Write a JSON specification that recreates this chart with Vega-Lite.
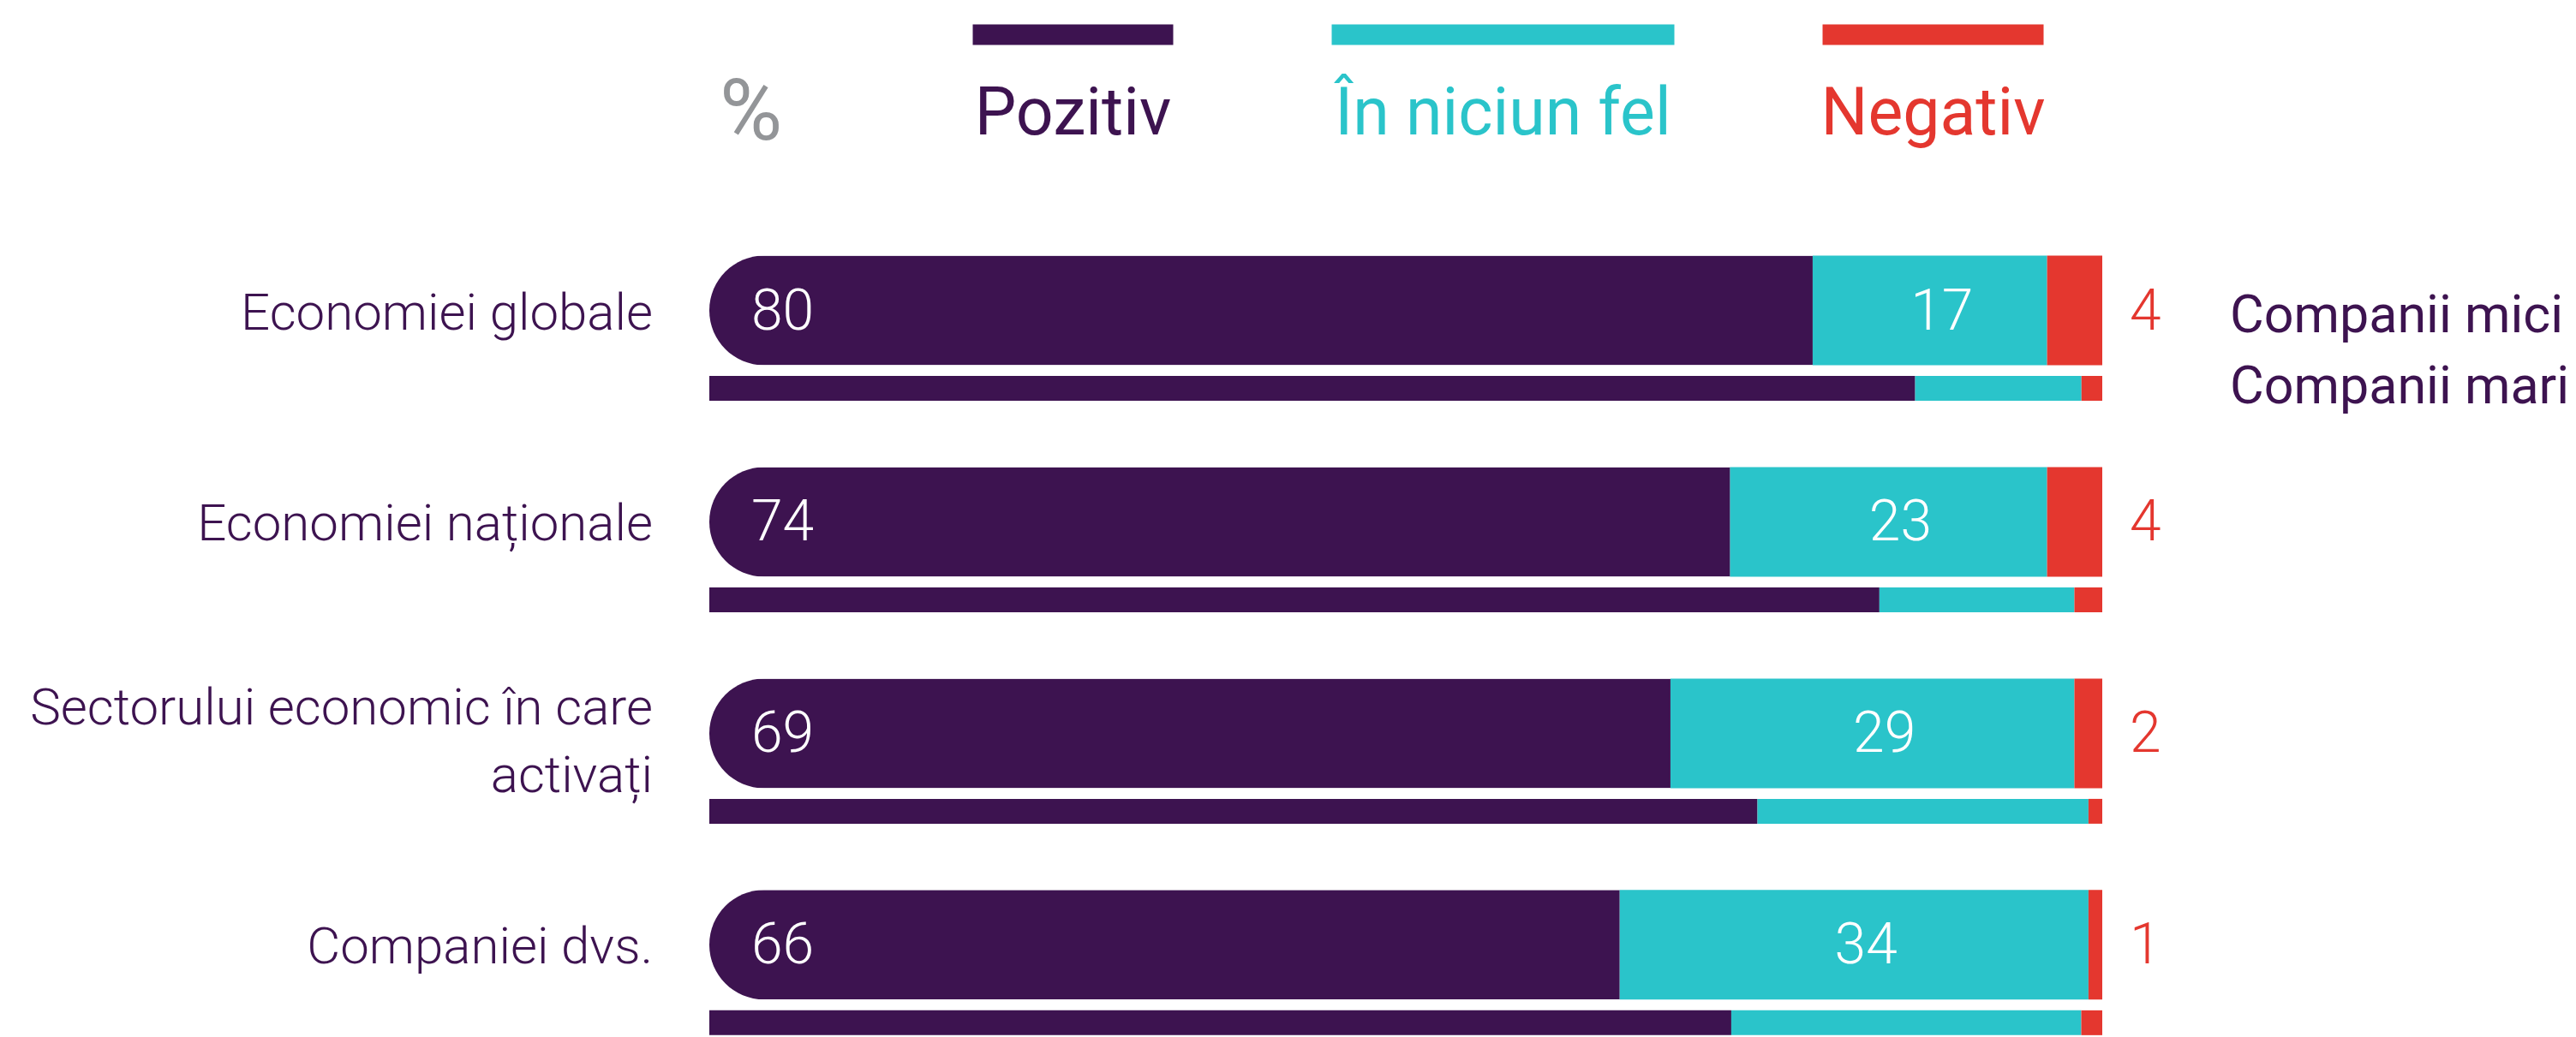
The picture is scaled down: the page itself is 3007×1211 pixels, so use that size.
{
  "$schema": "https://vega.github.io/schema/vega-lite/v6.json",
  "width": 1626,
  "height": 1211,
  "autosize": {"type": "none"},
  "padding": {"left": 828, "top": 0, "right": 553, "bottom": 0},
  "background": "white",
  "config": {"view": {"stroke": null}, "font": "Roboto"},
  "datasets": {
    "survey": [
      {"item": "Economiei globale", "rank": 1, "company": "Companii mici", "resp": "Pozitiv", "ord": 1, "value": 80},
      {"item": "Economiei globale", "rank": 1, "company": "Companii mici", "resp": "În niciun fel", "ord": 2, "value": 17},
      {"item": "Economiei globale", "rank": 1, "company": "Companii mici", "resp": "Negativ", "ord": 3, "value": 4},
      {"item": "Economiei globale", "rank": 1, "company": "Companii mari", "resp": "Pozitiv", "ord": 1, "value": 87},
      {"item": "Economiei globale", "rank": 1, "company": "Companii mari", "resp": "În niciun fel", "ord": 2, "value": 12},
      {"item": "Economiei globale", "rank": 1, "company": "Companii mari", "resp": "Negativ", "ord": 3, "value": 1.5},
      {"item": "Economiei naționale", "rank": 2, "company": "Companii mici", "resp": "Pozitiv", "ord": 1, "value": 74},
      {"item": "Economiei naționale", "rank": 2, "company": "Companii mici", "resp": "În niciun fel", "ord": 2, "value": 23},
      {"item": "Economiei naționale", "rank": 2, "company": "Companii mici", "resp": "Negativ", "ord": 3, "value": 4},
      {"item": "Economiei naționale", "rank": 2, "company": "Companii mari", "resp": "Pozitiv", "ord": 1, "value": 84},
      {"item": "Economiei naționale", "rank": 2, "company": "Companii mari", "resp": "În niciun fel", "ord": 2, "value": 14},
      {"item": "Economiei naționale", "rank": 2, "company": "Companii mari", "resp": "Negativ", "ord": 3, "value": 2},
      {"item": "Sectorului economic în care\nactivați", "rank": 3, "company": "Companii mici", "resp": "Pozitiv", "ord": 1, "value": 69},
      {"item": "Sectorului economic în care\nactivați", "rank": 3, "company": "Companii mici", "resp": "În niciun fel", "ord": 2, "value": 29},
      {"item": "Sectorului economic în care\nactivați", "rank": 3, "company": "Companii mici", "resp": "Negativ", "ord": 3, "value": 2},
      {"item": "Sectorului economic în care\nactivați", "rank": 3, "company": "Companii mari", "resp": "Pozitiv", "ord": 1, "value": 76},
      {"item": "Sectorului economic în care\nactivați", "rank": 3, "company": "Companii mari", "resp": "În niciun fel", "ord": 2, "value": 24},
      {"item": "Sectorului economic în care\nactivați", "rank": 3, "company": "Companii mari", "resp": "Negativ", "ord": 3, "value": 1},
      {"item": "Companiei dvs.", "rank": 4, "company": "Companii mici", "resp": "Pozitiv", "ord": 1, "value": 66},
      {"item": "Companiei dvs.", "rank": 4, "company": "Companii mici", "resp": "În niciun fel", "ord": 2, "value": 34},
      {"item": "Companiei dvs.", "rank": 4, "company": "Companii mici", "resp": "Negativ", "ord": 3, "value": 1},
      {"item": "Companiei dvs.", "rank": 4, "company": "Companii mari", "resp": "Pozitiv", "ord": 1, "value": 73},
      {"item": "Companiei dvs.", "rank": 4, "company": "Companii mari", "resp": "În niciun fel", "ord": 2, "value": 25},
      {"item": "Companiei dvs.", "rank": 4, "company": "Companii mari", "resp": "Negativ", "ord": 3, "value": 1.5}
    ],
    "legend": [
      {"resp": "Pozitiv", "ord": 1, "rank": 0},
      {"resp": "În niciun fel", "ord": 2, "rank": 0},
      {"resp": "Negativ", "ord": 3, "rank": 0}
    ]
  },
  "layer": [
    {
      "data": {"name": "survey"},
      "layer": [
        {
          "transform": [{"filter": "datum.company === 'Companii mici'"}],
          "mark": {"type": "bar", "orient": "horizontal", "height": 128},
          "encoding": {
            "x": {"field": "value", "type": "quantitative", "stack": "normalize", "axis": null},
            "y": {"field": "rank", "type": "quantitative", "axis": null, "scale": {"domain": [-0.44779, 4.41566], "reverse": true, "nice": false, "zero": false}},
            "color": {"field": "resp", "type": "nominal", "legend": null, "scale": {"domain": ["Pozitiv", "În niciun fel", "Negativ"], "range": ["#3D1350", "#2AC4CA", "#E4372F"]}},
            "order": {"field": "ord"},
            "opacity": {"condition": {"test": "datum.resp === 'Pozitiv'", "value": 0}, "value": 1}
          }
        },
        {
          "transform": [{"filter": "datum.company === 'Companii mici'"}],
          "mark": {"type": "bar", "orient": "horizontal", "height": 128, "cornerRadiusTopLeft": 64, "cornerRadiusBottomLeft": 64},
          "encoding": {
            "x": {"field": "value", "type": "quantitative", "stack": "normalize", "axis": null},
            "y": {"field": "rank", "type": "quantitative", "axis": null, "scale": {"domain": [-0.44779, 4.41566], "reverse": true, "nice": false, "zero": false}},
            "color": {"field": "resp", "type": "nominal", "legend": null},
            "order": {"field": "ord"},
            "opacity": {"condition": {"test": "datum.resp === 'Pozitiv'", "value": 1}, "value": 0}
          }
        },
        {
          "transform": [{"filter": "datum.company === 'Companii mari'"}],
          "mark": {"type": "bar", "orient": "horizontal", "height": 29, "yOffset": 91},
          "encoding": {
            "x": {"field": "value", "type": "quantitative", "stack": "normalize", "axis": null},
            "y": {"field": "rank", "type": "quantitative", "axis": null, "scale": {"domain": [-0.44779, 4.41566], "reverse": true, "nice": false, "zero": false}},
            "color": {"field": "resp", "type": "nominal", "legend": null},
            "order": {"field": "ord"}
          }
        },
        {
          "transform": [{"filter": "datum.company === 'Companii mici' && datum.resp === 'Pozitiv' && datum.rank !== 3"}],
          "mark": {"type": "text", "align": "right", "baseline": "middle", "dx": -66, "dy": 4, "fontSize": 60, "fontWeight": 300, "color": "#3D1350", "lineBreak": "\n", "lineHeight": 79},
          "encoding": {
            "x": {"datum": 0, "type": "quantitative"},
            "y": {"field": "rank", "type": "quantitative"},
            "text": {"field": "item"}
          }
        },
        {
          "transform": [{"filter": "datum.company === 'Companii mici' && datum.resp === 'Pozitiv' && datum.rank === 3"}],
          "mark": {"type": "text", "align": "right", "baseline": "middle", "dx": -66, "dy": -28, "fontSize": 60, "fontWeight": 300, "color": "#3D1350", "lineBreak": "\n", "lineHeight": 79},
          "encoding": {
            "x": {"datum": 0, "type": "quantitative"},
            "y": {"field": "rank", "type": "quantitative"},
            "text": {"field": "item"}
          }
        },
        {
          "transform": [{"filter": "datum.company === 'Companii mici' && datum.resp === 'Pozitiv'"}],
          "mark": {"type": "text", "align": "left", "baseline": "middle", "dx": 49, "dy": 2, "fontSize": 66, "fontWeight": 300, "color": "white"},
          "encoding": {
            "x": {"datum": 0, "type": "quantitative"},
            "y": {"field": "rank", "type": "quantitative"},
            "text": {"field": "value"}
          }
        },
        {
          "transform": [{"filter": "datum.company === 'Companii mici'"}],
          "mark": {"type": "text", "align": "center", "baseline": "middle", "dx": 14, "dy": 2, "fontSize": 66, "fontWeight": 300, "color": "white"},
          "encoding": {
            "x": {"field": "value", "type": "quantitative", "stack": "normalize", "bandPosition": 0.5},
            "y": {"field": "rank", "type": "quantitative"},
            "detail": {"field": "resp"},
            "order": {"field": "ord"},
            "text": {"field": "value"},
            "opacity": {"condition": {"test": "datum.resp === 'În niciun fel'", "value": 1}, "value": 0}
          }
        },
        {
          "transform": [{"filter": "datum.company === 'Companii mici' && datum.resp === 'Negativ'"}],
          "mark": {"type": "text", "align": "left", "baseline": "middle", "dx": 32, "dy": 2, "fontSize": 66, "fontWeight": 300, "color": "#E4372F"},
          "encoding": {
            "x": {"datum": 1, "type": "quantitative"},
            "y": {"field": "rank", "type": "quantitative"},
            "text": {"field": "value"}
          }
        },
        {
          "transform": [{"filter": "datum.rank === 1 && datum.resp === 'Negativ' && datum.company === 'Companii mici'"}],
          "mark": {"type": "text", "align": "left", "baseline": "middle", "dx": 149, "dy": 7, "fontSize": 61, "fontWeight": 400, "color": "#3D1350"},
          "encoding": {
            "x": {"datum": 1, "type": "quantitative"},
            "y": {"field": "rank", "type": "quantitative"},
            "text": {"field": "company"}
          }
        },
        {
          "transform": [{"filter": "datum.rank === 1 && datum.resp === 'Negativ' && datum.company === 'Companii mari'"}],
          "mark": {"type": "text", "align": "left", "baseline": "middle", "dx": 149, "dy": 90, "fontSize": 61, "fontWeight": 400, "color": "#3D1350"},
          "encoding": {
            "x": {"datum": 1, "type": "quantitative"},
            "y": {"field": "rank", "type": "quantitative"},
            "text": {"field": "company"}
          }
        },
        {
          "data": {"values": [{"label": "%", "rank": 0}]},
          "mark": {"type": "text", "align": "left", "baseline": "alphabetic", "dx": 12, "dy": 47, "fontSize": 100, "fontWeight": 400, "color": "#939598"},
          "encoding": {
            "x": {"datum": 0, "type": "quantitative"},
            "y": {"field": "rank", "type": "quantitative"},
            "text": {"field": "label"}
          }
        }
      ]
    },
    {
      "data": {"name": "legend"},
      "layer": [
        {
          "mark": {"type": "tick", "thickness": 24, "yOffset": -75, "opacity": 1},
          "encoding": {
            "x": {"field": "resp", "type": "nominal", "axis": null, "sort": null, "scale": {"type": "point", "domain": ["Pozitiv", "În niciun fel", "Negativ"], "padding": 0.6195, "align": 0.6825}},
            "y": {"field": "rank", "type": "quantitative", "axis": null, "scale": {"domain": [-0.44779, 4.41566], "reverse": true, "nice": false, "zero": false}},
            "size": {"condition": [{"test": "datum.resp === 'Pozitiv'", "value": 234}, {"test": "datum.resp === 'Negativ'", "value": 258}], "value": 400},
            "color": {"field": "resp", "type": "nominal", "legend": null}
          }
        },
        {
          "mark": {"type": "text", "align": "center", "baseline": "alphabetic", "dy": 41, "fontSize": 77, "fontWeight": 400},
          "encoding": {
            "x": {"field": "resp", "type": "nominal", "axis": null, "sort": null, "scale": {"type": "point", "domain": ["Pozitiv", "În niciun fel", "Negativ"], "padding": 0.6195, "align": 0.6825}},
            "y": {"field": "rank", "type": "quantitative"},
            "text": {"field": "resp"},
            "color": {"field": "resp", "type": "nominal", "legend": null}
          }
        }
      ]
    }
  ],
  "resolve": {"scale": {"x": "independent"}}
}
